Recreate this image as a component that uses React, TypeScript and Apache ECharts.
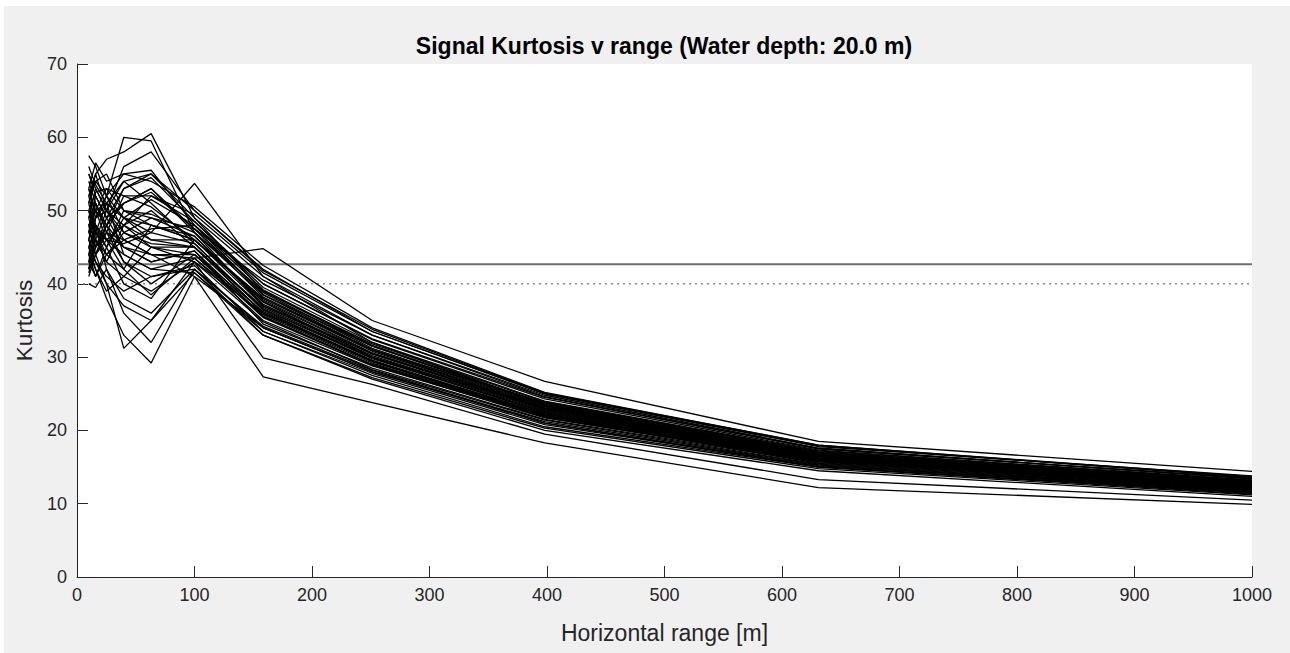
import React, { useEffect, useRef } from "react";
import * as echarts from "echarts";

// Horizontal range sample points [m]
const ranges: number[] = [10, 15.85, 25.12, 39.81, 63.1, 100, 158.5, 251.2, 398.1, 631, 1000];

// Kurtosis per trace (one array per simulated receiver track)
const traces: number[][] = [
  [57.5, 56, 52, 60, 59.5, 47, 38.5, 31, 23, 16.5, 12.5],
  [52, 55, 57, 58, 60.5, 49, 39, 31.5, 23.5, 16.8, 12.8],
  [46, 44, 40, 31.2, 35, 43, 36, 29.5, 22, 15.5, 11.8],
  [44, 42, 38, 33, 29.2, 41, 34, 28, 21, 15, 11.5],
  [48, 50, 51, 49, 47, 53.7, 41, 32, 23.5, 16.5, 12.5],
  [45, 47, 46, 44, 42, 43.5, 44.8, 35, 26.7, 18.5, 14.4],
  [43, 45, 47, 46, 44, 41, 27.3, 23.8, 18.3, 12.2, 9.9],
  [41, 44, 46, 48, 45, 43, 29.9, 26.3, 19.5, 13.3, 10.5],
  [40, 39.5, 42, 36, 32, 42, 33, 27, 20, 14.5, 11],
  [55, 53, 50, 56, 58, 50, 42, 33.5, 25, 17.8, 13.8],
  [53, 56.5, 54, 55, 55.5, 48, 40, 32.5, 24.5, 17.5, 13.5],
  [50, 48, 45, 40, 38, 46, 38, 31, 23.8, 17, 13],
  [47, 52, 49, 51, 53, 47, 37, 30.5, 22.8, 16.4, 12.6],
  [49, 45, 48, 53, 54.5, 48.5, 39.5, 32, 24, 17.2, 13.2],
  [44, 49, 52, 47, 45, 44, 35.5, 29, 22, 16, 12.2],
  [51, 47, 44, 42, 48, 46.5, 37.5, 30, 23, 16.6, 12.7],
  [42, 46, 50, 54, 51, 45.5, 36.5, 29.8, 22.5, 16.2, 12.4],
  [54, 51, 47, 45, 43, 44.5, 34.5, 28.5, 21.5, 15.6, 11.9],
  [46, 43, 41, 39, 41, 42.5, 33.5, 27.5, 20.5, 15, 11.3],
  [52, 54, 55, 50, 49, 47.5, 40.5, 33, 24.8, 17.6, 13.4],
  [48, 50, 46, 48, 50, 45, 36, 29.5, 22.3, 16.1, 12.3],
  [43, 41, 44, 46, 47.5, 48, 38.5, 31.5, 23.6, 16.9, 12.9],
  [50, 52.5, 53, 52, 52, 49.5, 41.5, 33.5, 25, 17.9, 13.6],
  [45, 48, 42, 38, 36, 42, 34, 28, 21.2, 15.3, 11.6],
  [56, 53.5, 51, 49, 46, 46, 37, 30.2, 22.7, 16.3, 12.5],
  [47, 45, 49, 45, 44, 43.5, 35, 28.8, 21.8, 15.8, 12],
  [42, 47, 45, 50, 49.5, 47, 39, 31.8, 23.9, 17.1, 13.1],
  [49, 51, 48, 43, 40, 44, 36.2, 29.6, 22.2, 16, 12.2],
  [53, 49, 52, 55, 54, 50.5, 42.5, 34, 25.2, 18, 13.7],
  [44, 46, 43, 41, 39, 43, 34.8, 28.3, 21.4, 15.4, 11.7],
  [48, 44, 47, 52, 50.5, 46, 38, 30.8, 23.2, 16.7, 12.8],
  [51, 55, 50, 47, 45.5, 45, 36.8, 30, 22.6, 16.2, 12.4],
  [46, 49, 51, 44, 42, 41.5, 33, 27.2, 20.3, 14.8, 11.2],
  [50, 46, 43, 48, 52, 48.5, 40, 32.4, 24.3, 17.3, 13.2],
  [43, 48, 46, 42, 38.5, 43.5, 35.8, 29.2, 22, 15.9, 12.1],
  [55, 52, 49, 53, 55, 49, 41, 33, 24.6, 17.5, 13.4],
  [45, 43, 40, 37, 35, 41.5, 33.5, 27.8, 20.8, 15.1, 11.4],
  [47, 50, 53, 50, 48, 46, 37.8, 30.6, 23.1, 16.6, 12.6],
  [52, 48, 46, 45.5, 47, 45.5, 36.4, 29.4, 22.1, 16, 12.3],
  [41.5, 45, 48, 51, 53, 47.5, 38.8, 31.2, 23.4, 16.8, 12.9],
  [49, 53, 50, 46, 44, 44, 35.4, 28.9, 21.7, 15.7, 12],
  [44, 41, 45, 49, 51.5, 48, 39.2, 31.6, 23.7, 17, 13],
  [50, 47, 51, 54, 55, 50, 41.8, 33.8, 25.1, 18, 13.6],
  [46, 51, 47, 43, 41, 42, 34.2, 28.2, 21, 15.2, 11.6],
  [48, 46, 44, 47, 49, 46.5, 37.2, 30.4, 22.9, 16.4, 12.5],
  [53, 50, 48, 51, 52.5, 47.5, 38.2, 31, 23.3, 16.7, 12.7],
  [42, 44, 48, 45, 43, 44.5, 35.6, 29, 21.9, 15.8, 12.1],
  [51, 54, 52, 49, 48, 46, 37.6, 30.5, 23, 16.5, 12.6],
  [45, 42, 39, 41, 45, 45, 36.6, 29.9, 22.4, 16.2, 12.4],
  [47, 49, 50, 48, 46, 45, 36, 29.4, 22.2, 16, 12.2],
];

// Reference thresholds
const thresholdSolid = 42.66;
const thresholdDotted = 40;
const xRange: number[] = [0, 1000];

const titleText = "Signal Kurtosis v range (Water depth: 20.0 m)";
const xName = "Horizontal range [m]";
const yName = "Kurtosis";

const FONT = "'Liberation Sans', Arial, Helvetica, sans-serif";
const INK = "#262626";

export default function App() {
  const ref = useRef<HTMLDivElement>(null);

  useEffect(() => {
    document.body.style.margin = "0";
    if (!ref.current) return;
    const chart = echarts.init(ref.current, undefined, { renderer: "svg" });

    const series: any[] = [
      {
        type: "line",
        data: xRange.map((x) => [x, thresholdDotted]),
        symbol: "none",
        silent: true,
        lineStyle: { color: "#8a8a8a", width: 1.5, type: [2, 4] },
        z: 1,
      },
      {
        type: "line",
        data: xRange.map((x) => [x, thresholdSolid]),
        symbol: "none",
        silent: true,
        lineStyle: { color: "#6e6e6e", width: 2 },
        z: 1,
      },
      ...traces.map((t) => ({
        type: "line",
        data: ranges.map((x, i) => [x, t[i]]),
        symbol: "none",
        silent: true,
        lineStyle: { color: "#000", width: 1.3 },
        emphasis: { disabled: true },
        z: 2,
      })),
    ];

    chart.setOption({
      animation: false,
      backgroundColor: "#f0f0f0",
      title: {
        text: titleText,
        left: 660,
        textAlign: "center",
        top: 28,
        padding: 0,
        textStyle: { fontFamily: FONT, fontSize: 23, fontWeight: "bold", color: "#000" },
      },
      grid: {
        left: 73,
        right: 38,
        top: 58,
        bottom: 76,
        show: true,
        backgroundColor: "#fff",
        borderWidth: 0,
      },
      xAxis: {
        type: "value",
        min: 0,
        max: 1000,
        interval: 100,
        name: xName,
        nameLocation: "middle",
        nameGap: 44,
        nameTextStyle: { fontFamily: FONT, fontSize: 23, color: INK },
        axisLine: { show: true, onZero: false, lineStyle: { color: INK, width: 1 } },
        axisTick: { show: true, inside: true, length: 11, lineStyle: { color: INK } },
        axisLabel: {
          fontFamily: FONT,
          fontSize: 18,
          color: INK,
          margin: 9,
          formatter: (v: number) => String(v),
        },
        splitLine: { show: false },
      },
      yAxis: {
        type: "value",
        min: 0,
        max: 70,
        interval: 10,
        name: yName,
        nameLocation: "middle",
        nameGap: 41,
        nameTextStyle: { fontFamily: FONT, fontSize: 22.5, color: INK },
        axisLine: { show: true, onZero: false, lineStyle: { color: INK, width: 1 } },
        axisTick: { show: true, inside: true, length: 11, lineStyle: { color: INK } },
        axisLabel: { fontFamily: FONT, fontSize: 18, color: INK, margin: 10 },
        splitLine: { show: false },
      },
      series,
    });

    return () => chart.dispose();
  }, []);

  return (
    <div style={{ position: "relative", width: 1290, height: 653, background: "#fff" }}>
      <div
        ref={ref}
        style={{ position: "absolute", left: 4, top: 6, width: 1286, height: 647 }}
      />
    </div>
  );
}
